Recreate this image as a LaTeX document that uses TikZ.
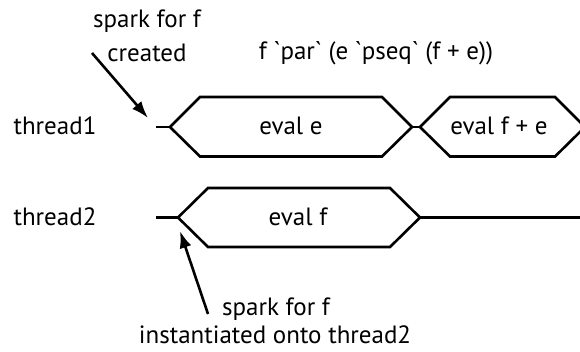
\documentclass[tikz,border=0pt]{standalone}
\usepackage{fontspec}
\setmainfont{PT Sans}
\usetikzlibrary{arrows.meta}
\begin{document}
\begin{tikzpicture}[x=1pt,y=-1pt,
  wire/.style={line width=2.6pt,line join=miter},
  lbl/.style={inner sep=0pt,anchor=base,font=\fontsize{25}{30}\selectfont},
  arr/.style={line width=2.6pt,-{Latex[length=17pt,width=12pt]}}]
\useasboundingbox (0,0) rectangle (580,352);
\clip (0,0) rectangle (580,352);
% row 1
\coordinate (t1s) at (156,127);
\coordinate (h1l) at (170,127);
\coordinate (h1r) at (412,127);
\coordinate (h2l) at (420,127);
\draw[wire] (t1s) -- (h1l);
\draw[wire] (h1l) -- (200,97) -- (382,97) -- (h1r) -- (382,156.5) -- (200,156.5) -- cycle;
\draw[wire] (h1r) -- (h2l);
\draw[wire] (h2l) -- (450,97) -- (555,97) -- (585,127) -- (555,156.5) -- (450,156.5) -- cycle;
% row 2
\coordinate (t2s) at (156,217.5);
\coordinate (h3l) at (178,217.5);
\coordinate (h3r) at (420,217.5);
\coordinate (t2e) at (580,217.5);
\draw[wire] (t2s) -- (h3l);
\draw[wire] (h3l) -- (208,188) -- (390,188) -- (h3r) -- (390,247) -- (208,247) -- cycle;
\draw[wire] (h3r) -- (t2e);
% labels
\node[lbl] (sp1) at (147,28) {spark for f};
\node[lbl] (cr) at (147,62) {created};
\node[lbl] (title) at (376,60) {f \textasciigrave par\textasciigrave\ (e \textasciigrave pseq\textasciigrave\ (f + e))};
\node[lbl] (th1) at (55,135) {thread1};
\node[lbl] (th2) at (55,225.5) {thread2};
\node[lbl] (ee) at (291,135) {eval e};
\node[lbl] (efe) at (499,135) {eval f + e};
\node[lbl] (ef) at (298,225.5) {eval f};
\node[lbl] (sp2) at (276,315) {spark for f};
\node[lbl] (inst) at (275,343) {instantiated onto thread2};
% arrows
\coordinate (a1s) at (92,53);
\coordinate (a1e) at (148,118);
\coordinate (a2s) at (208,314);
\coordinate (a2e) at (180,231);
\draw[arr] (a1s) -- (a1e);
\draw[arr] (a2s) -- (a2e);
\end{tikzpicture}
\end{document}
